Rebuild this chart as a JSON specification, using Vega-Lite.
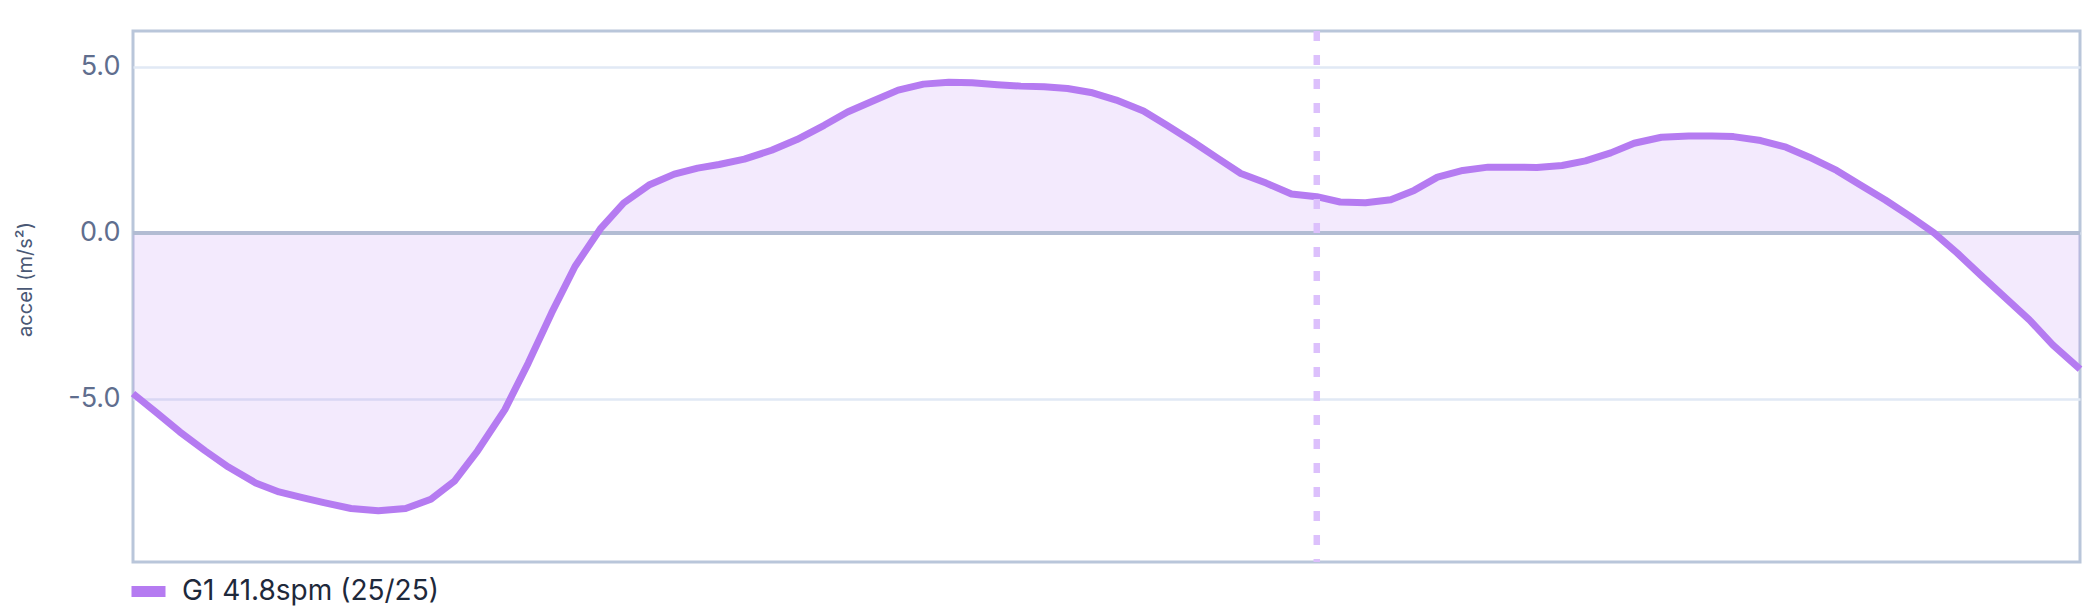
{
  "$schema": "https://vega.github.io/schema/vega-lite/v6.json",
  "autosize": {"type": "none"},
  "width": 1947,
  "height": 531,
  "padding": {"left": 133, "top": 31, "right": 20, "bottom": 52},
  "background": "white",
  "config": {
    "font": "Inter",
    "view": {"stroke": "#b9c6da", "strokeWidth": 3}
  },
  "datasets": {
    "stroke": [
      {"t": 0.0, "accel": -4.84}, {"t": 1.2, "accel": -5.41}, {"t": 2.4, "accel": -5.99},
      {"t": 3.7, "accel": -6.56}, {"t": 4.9, "accel": -7.05}, {"t": 6.3, "accel": -7.53},
      {"t": 7.5, "accel": -7.80}, {"t": 8.7, "accel": -7.97}, {"t": 9.8, "accel": -8.12},
      {"t": 11.2, "accel": -8.30}, {"t": 12.6, "accel": -8.37}, {"t": 14.0, "accel": -8.30},
      {"t": 15.3, "accel": -8.02}, {"t": 16.5, "accel": -7.48}, {"t": 17.7, "accel": -6.56},
      {"t": 19.1, "accel": -5.32}, {"t": 20.3, "accel": -3.92}, {"t": 21.5, "accel": -2.41},
      {"t": 22.7, "accel": -1.01}, {"t": 24.0, "accel": 0.12}, {"t": 25.2, "accel": 0.90},
      {"t": 26.5, "accel": 1.44}, {"t": 27.8, "accel": 1.77}, {"t": 29.0, "accel": 1.95},
      {"t": 30.1, "accel": 2.06}, {"t": 31.4, "accel": 2.22}, {"t": 32.8, "accel": 2.49},
      {"t": 34.1, "accel": 2.81}, {"t": 35.5, "accel": 3.24}, {"t": 36.7, "accel": 3.64},
      {"t": 38.0, "accel": 3.97}, {"t": 39.3, "accel": 4.30}, {"t": 40.6, "accel": 4.48},
      {"t": 41.9, "accel": 4.54}, {"t": 43.1, "accel": 4.52}, {"t": 44.4, "accel": 4.46},
      {"t": 45.6, "accel": 4.42}, {"t": 46.8, "accel": 4.40}, {"t": 48.0, "accel": 4.35},
      {"t": 49.2, "accel": 4.23}, {"t": 50.5, "accel": 4.00}, {"t": 51.9, "accel": 3.67},
      {"t": 53.1, "accel": 3.24}, {"t": 54.4, "accel": 2.76}, {"t": 55.7, "accel": 2.25},
      {"t": 56.9, "accel": 1.79}, {"t": 58.2, "accel": 1.50}, {"t": 59.5, "accel": 1.17},
      {"t": 60.8, "accel": 1.09}, {"t": 62.0, "accel": 0.93}, {"t": 63.3, "accel": 0.91},
      {"t": 64.6, "accel": 1.00}, {"t": 65.8, "accel": 1.28}, {"t": 67.0, "accel": 1.68},
      {"t": 68.3, "accel": 1.88}, {"t": 69.6, "accel": 1.98}, {"t": 70.9, "accel": 1.98},
      {"t": 72.1, "accel": 1.97}, {"t": 73.4, "accel": 2.03}, {"t": 74.6, "accel": 2.17},
      {"t": 75.9, "accel": 2.41}, {"t": 77.1, "accel": 2.70}, {"t": 78.5, "accel": 2.88},
      {"t": 79.9, "accel": 2.92}, {"t": 81.1, "accel": 2.92}, {"t": 82.2, "accel": 2.90},
      {"t": 83.6, "accel": 2.78}, {"t": 84.9, "accel": 2.58}, {"t": 86.1, "accel": 2.28},
      {"t": 87.5, "accel": 1.88}, {"t": 88.7, "accel": 1.45}, {"t": 90.0, "accel": 0.99},
      {"t": 91.3, "accel": 0.49}, {"t": 92.5, "accel": 0.0}, {"t": 93.7, "accel": -0.61},
      {"t": 94.9, "accel": -1.27}, {"t": 96.1, "accel": -1.92}, {"t": 97.4, "accel": -2.62},
      {"t": 98.6, "accel": -3.37}, {"t": 100.0, "accel": -4.10}
    ],
    "zero": [{"accel": 0}],
    "marker": [{"t": 60.8}]
  },
  "layer": [
    {
      "data": {"name": "stroke"},
      "mark": {"type": "area", "color": "#b57bf1", "opacity": 0.16},
      "encoding": {
        "x": {"field": "t", "type": "quantitative", "scale": {"domain": [0, 100], "nice": false, "zero": false}, "axis": null},
        "y": {
          "field": "accel",
          "type": "quantitative",
          "scale": {"domain": [-9.91, 6.08], "nice": false, "zero": false},
          "title": "accel (m/s²)",
          "axis": {
            "values": [-5, 0, 5],
            "labelExpr": "datum.value < 0 ? '-' + format(-datum.value, '.1f') : format(datum.value, '.1f')",
            "domain": false,
            "ticks": false,
            "labelFontSize": 27,
            "labelColor": "#5f6e8e",
            "labelPadding": 13,
            "gridColor": "#e1e9f5",
            "gridWidth": 2.5,
            "titleFontSize": 20,
            "titleFontWeight": "normal",
            "titleColor": "#4a5875",
            "titleAngle": 270,
            "titleAlign": "center",
            "titleBaseline": "middle",
            "titleX": -108,
            "titleY": 248
          }
        },
        "y2": {"datum": 0}
      }
    },
    {
      "data": {"name": "zero"},
      "mark": {"type": "rule", "color": "#b2bcd3", "strokeWidth": 4},
      "encoding": {"y": {"field": "accel", "type": "quantitative"}}
    },
    {
      "data": {"name": "stroke"},
      "transform": [{"calculate": "'G1 41.8spm (25/25)'", "as": "series"}],
      "mark": {"type": "line", "strokeWidth": 7, "strokeJoin": "round"},
      "encoding": {
        "x": {"field": "t", "type": "quantitative"},
        "y": {"field": "accel", "type": "quantitative"},
        "color": {
          "field": "series",
          "type": "nominal",
          "scale": {"range": ["#b57bf1"]},
          "legend": {
            "title": null,
            "orient": "none",
            "legendX": -7,
            "legendY": 538,
            "padding": 0,
            "symbolType": "stroke",
            "symbolSize": 1156,
            "symbolStrokeWidth": 11,
            "labelFontSize": 28,
            "labelLimit": 0,
            "labelColor": "#1e293b",
            "labelOffset": 11
          }
        }
      }
    },
    {
      "data": {"name": "marker"},
      "mark": {"type": "rule", "color": "#dcc0fc", "strokeWidth": 6.5, "strokeDash": [10, 14]},
      "encoding": {"x": {"field": "t", "type": "quantitative"}}
    }
  ]
}
